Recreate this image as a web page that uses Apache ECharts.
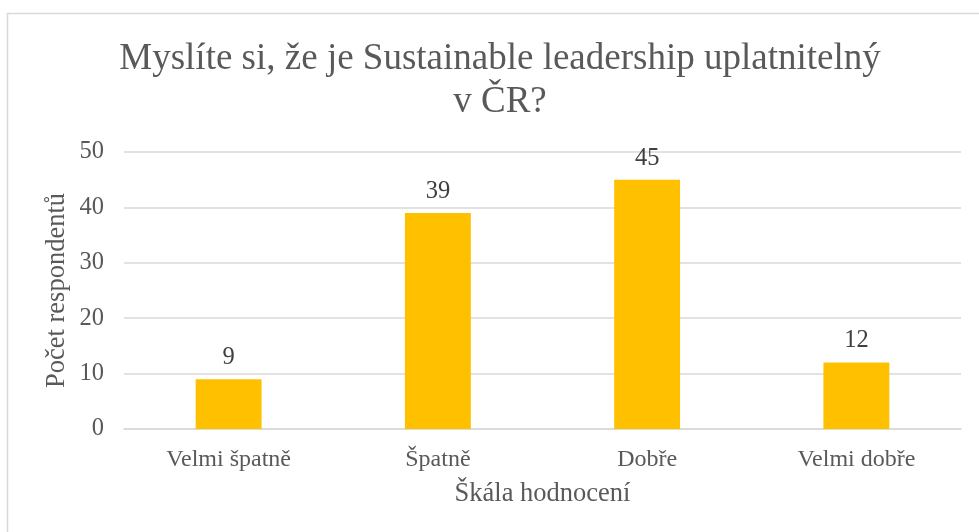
<!DOCTYPE html>
<html><head><meta charset="utf-8">
<script src="https://cdn.jsdelivr.net/npm/echarts@6/dist/echarts.min.js"></script>
<style>html,body{margin:0;padding:0;background:#fff}#c{width:979px;height:532px}</style>
</head><body><div id="c"></div>
<script>
const categories = ['Velmi špatně', 'Špatně', 'Dobře', 'Velmi dobře'];
const values = [9, 39, 45, 12];
const titleText = 'Myslíte si, že je Sustainable leadership uplatnitelný\nv ČR?';
const yName = 'Počet respondentů';
const xName = 'Škála hodnocení';
const FONT = '"Liberation Serif", "Times New Roman", serif';
const chart = echarts.init(document.getElementById('c'), null, {renderer: 'canvas'});
chart.setOption({
  animation: false,
  graphic: [{type: 'rect', shape: {x: 7.5, y: 13.5, width: 990, height: 540}, style: {fill: 'none', stroke: '#d9d9d9', lineWidth: 1.5}}],
  title: {text: titleText, left: 495, top: 33, textAlign: 'center',
    textStyle: {fontFamily: FONT, fontSize: 37, fontWeight: 'normal', color: '#595959', lineHeight: 43, align: 'center'}},
  grid: {left: 124, right: 18, top: 152, bottom: 103},
  xAxis: {type: 'category', data: categories,
    axisLine: {lineStyle: {color: '#d9d9d9', width: 1.5}}, axisTick: {show: false},
    axisLabel: {fontFamily: FONT, fontSize: 24, color: '#595959', margin: 19},
    name: xName, nameLocation: 'middle', nameGap: 52, nameMoveOverlap: false,
    nameTextStyle: {fontFamily: FONT, fontSize: 26.5, color: '#595959'}},
  yAxis: {type: 'value', min: 0, max: 50, interval: 10,
    axisLine: {show: false}, axisTick: {show: false},
    splitLine: {lineStyle: {color: '#d9d9d9', width: 1.5}},
    axisLabel: {fontFamily: FONT, fontSize: 24.5, color: '#595959', margin: 20},
    name: yName, nameLocation: 'middle', nameGap: 53, nameRotate: 90, nameMoveOverlap: false,
    nameTextStyle: {fontFamily: FONT, fontSize: 26.5, color: '#595959'}},
  series: [{type: 'bar', data: values, barWidth: '31.5%',
    itemStyle: {color: '#FFC000'},
    label: {show: true, position: 'top', distance: 9, fontFamily: FONT, fontSize: 24.5, color: '#404040'}}]
});
</script></body></html>
